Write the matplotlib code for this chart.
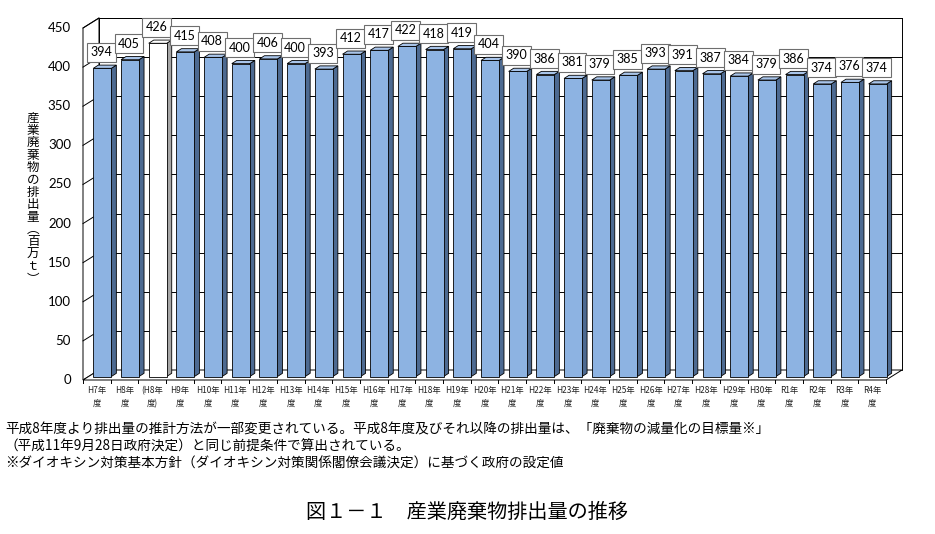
import matplotlib
matplotlib.use('Agg')
import matplotlib.pyplot as plt
from matplotlib.patches import Polygon, Rectangle
from matplotlib.transforms import offset_copy

plt.rcParams['font.family'] = ['Noto Sans CJK JP', 'DejaVu Sans']

# 年度ラベルと排出量（百万t）
labels = ['H7年\n度', 'H8年\n度', '(H8年\n度)', 'H9年\n度', 'H10年\n度', 'H11年\n度',
          'H12年\n度', 'H13年\n度', 'H14年\n度', 'H15年\n度', 'H16年\n度', 'H17年\n度',
          'H18年\n度', 'H19年\n度', 'H20年\n度', 'H21年\n度', 'H22年\n度', 'H23年\n度',
          'H24年\n度', 'H25年\n度', 'H26年\n度', 'H27年\n度', 'H28年\n度', 'H29年\n度',
          'H30年\n度', 'R1年\n度', 'R2年\n度', 'R3年\n度', 'R4年\n度']
values = [394, 405, 426, 415, 408, 400, 406, 400, 393, 412, 417, 422, 418, 419, 404,
          390, 386, 381, 379, 385, 393, 391, 387, 384, 379, 386, 374, 376, 374]
highlight = [2]  # 推計方法変更前の値（白抜き）
yticks = list(range(0, 451, 50))
ylabel = '産業廃棄物の排出量︵百万ｔ︶'

W, H = 935, 534
fig = plt.figure(figsize=(W / 100, H / 100), dpi=100)

# 前面の座標面（ピクセル）
left_px, right_px, top_px, bottom_px = 83, 886, 28, 380
ax = fig.add_axes([left_px / W, 1 - bottom_px / H,
                   (right_px - left_px) / W, (bottom_px - top_px) / H])
n = len(values)
ymax = 450
ax.set_xlim(-0.5, n - 0.5)
ax.set_ylim(0, ymax)
ax.set_axis_off()

px_x = (right_px - left_px) / n
px_y = (bottom_px - top_px) / ymax
def dx(p): return p / px_x
def dy(p): return p / px_y

# 奥行き（壁と棒）
wx, wy = dx(16), dy(10)
bx, by = dx(5.5), dy(3.5)
bdx, bdy = dx(5), dy(3.2)
w = 0.65

lw = 0.7
# 床・左壁・奥の壁
ax.add_patch(Rectangle((-0.5 + wx, wy), n, ymax, facecolor='white', edgecolor='black',
                       lw=lw, zorder=0, clip_on=False))
ax.add_patch(Polygon([(-0.5, 0), (-0.5, ymax), (-0.5 + wx, ymax + wy), (-0.5 + wx, wy)],
                     closed=True, facecolor='white', edgecolor='black', lw=lw, zorder=0.2,
                     clip_on=False))
ax.add_patch(Polygon([(-0.5, 0), (n - 0.5, 0), (n - 0.5 + wx, wy), (-0.5 + wx, wy)],
                     closed=True, facecolor='white', edgecolor='black', lw=lw, zorder=0.2,
                     clip_on=False))
for t in yticks[1:]:
    ax.plot([-0.5 + wx, n - 0.5 + wx], [t + wy, t + wy], color='black', lw=lw,
            zorder=0.1, clip_on=False)
    ax.plot([-0.5, -0.5 + wx], [t, t + wy], color='black', lw=lw, zorder=0.3, clip_on=False)

# 棒（前面・側面・上面）
for i, v in enumerate(values):
    if i in highlight:
        front, side, top = 'white', '#a6a6a6', 'white'
    else:
        front, side, top = '#8db3e2', '#4d6a91', '#a9c5ea'
    x0 = i - w / 2 + bx
    x1 = x0 + w
    ax.add_patch(Polygon([(x1, by), (x1 + bdx, by + bdy), (x1 + bdx, v + by + bdy), (x1, v + by)],
                         closed=True, facecolor=side, edgecolor='black', lw=0.6, zorder=2,
                         clip_on=False))
    ax.add_patch(Polygon([(x0, v + by), (x0 + bdx, v + by + bdy), (x1 + bdx, v + by + bdy), (x1, v + by)],
                         closed=True, facecolor=top, edgecolor='black', lw=0.6, zorder=2,
                         clip_on=False))
    ax.add_patch(Rectangle((x0, by), w, v, facecolor=front, edgecolor='black', lw=0.6,
                           zorder=2.1, clip_on=False))
    ax.annotate(str(v), xy=(i + bx - dx(1), v + by), xytext=(0, 16), textcoords='offset pixels',
                ha='center', va='center', fontsize=9, family=['Lato', 'DejaVu Sans'],
                zorder=3 + i,
                bbox=dict(boxstyle='square,pad=0.28', facecolor='white', edgecolor='#6e6e6e',
                          lw=0.8))

# 目盛ラベル
ytr = offset_copy(ax.transData, fig=fig, x=-12, y=0, units='dots')
for t in yticks:
    ax.text(-0.5, t, str(t), transform=ytr, ha='right', va='center', fontsize=9.5,
            family=['Lato', 'DejaVu Sans'])
xtr = offset_copy(ax.transData, fig=fig, x=0, y=-6, units='dots')
for i, lab in enumerate(labels):
    ax.text(i, 0, lab, transform=xtr, ha='center', va='top', fontsize=6, linespacing=1.55,
            color='#222222')
for k in range(n + 1):
    ax.plot([k - 0.5, k - 0.5], [0, -dy(3)], color='black', lw=lw, clip_on=False)

# 縦書きの軸ラベル
step = 12.4
y0 = 118
for j, ch in enumerate(ylabel):
    fig.text(33 / W, 1 - (y0 + j * step) / H, ch, ha='center', va='center', fontsize=9)

# 注記
notes = ['平成8年度より排出量の推計方法が一部変更されている。平成8年度及びそれ以降の排出量は、「廃棄物の減量化の目標量※」',
         '（平成11年9月28日政府決定）と同じ前提条件で算出されている。',
         '※ダイオキシン対策基本方針（ダイオキシン対策関係閣僚会議決定）に基づく政府の設定値']
for j, s in enumerate(notes):
    fig.text(5 / W, 1 - (429 + j * 17.5) / H, s, ha='left', va='center', fontsize=9.8)

fig.text(467 / W, 1 - 512 / H, '図１－１　産業廃棄物排出量の推移', ha='center', va='center',
         fontsize=14.5)

fig.savefig('out.png', dpi=100)
